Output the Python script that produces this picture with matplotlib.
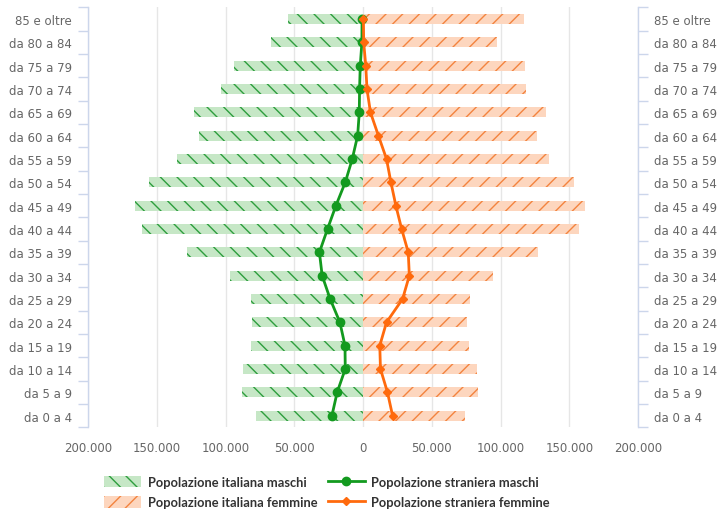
import matplotlib
matplotlib.use("Agg")
import matplotlib.pyplot as plt
import numpy as np
from matplotlib.patches import Patch
from matplotlib.lines import Line2D
from matplotlib.ticker import FuncFormatter

categories = ["da 0 a 4", "da 5 a 9", "da 10 a 14", "da 15 a 19", "da 20 a 24",
              "da 25 a 29", "da 30 a 34", "da 35 a 39", "da 40 a 44", "da 45 a 49",
              "da 50 a 54", "da 55 a 59", "da 60 a 64", "da 65 a 69", "da 70 a 74",
              "da 75 a 79", "da 80 a 84", "85 e oltre"]

italiani_maschi = [77700, 87900, 87100, 81500, 80800, 81500, 96400, 127800, 160600,
                   165500, 155300, 135000, 119300, 123100, 103400, 94000, 66900, 54300]
italiani_femmine = [73900, 83400, 82700, 77100, 75600, 77800, 94400, 127600, 157100,
                    161500, 153200, 135100, 126400, 133000, 118800, 117800, 97600, 117100]
stranieri_maschi = [22600, 18800, 12900, 13100, 16800, 23900, 29700, 31700, 25800,
                    19700, 12900, 7800, 3900, 2700, 2500, 2000, 800, 700]
stranieri_femmine = [21500, 17800, 12700, 12200, 17100, 28800, 33700, 32900, 28100,
                     23900, 20300, 17100, 11200, 5400, 2900, 2000, 500, 300]

x_ticks = [-200000, -150000, -100000, -50000, 0, 50000, 100000, 150000, 200000]

W, H = 717, 510
fig = plt.figure(figsize=(W / 100, H / 100), dpi=100)
ax_left, ax_right, ax_top, ax_bot = 88, 638, 8.3, 428.3
ax = fig.add_axes([ax_left / W, 1 - ax_bot / H, (ax_right - ax_left) / W, (ax_bot - ax_top) / H])

plt.rcParams['hatch.linewidth'] = 1.0

green_fill = "#c6e7c6"
green_hatch = "#2e9e3e"
orange_fill = "#fdd6be"
orange_hatch = "#f3843f"
green_line = "#139a1f"
orange_line = "#ff6a0d"
axis_col = "#ccd6eb"
text_col = "#666666"

y = np.arange(len(categories))
bh = 0.42

ax.barh(y, -np.array(italiani_maschi), height=bh, color=green_fill, edgecolor=green_hatch,
        linewidth=0, hatch="\\\\", zorder=2)
ax.barh(y, np.array(italiani_femmine), height=bh, color=orange_fill, edgecolor=orange_hatch,
        linewidth=0, hatch="//", zorder=2)
ax.plot(-np.array(stranieri_maschi), y, color=green_line, lw=2, marker="o", ms=6, zorder=4)
ax.plot(np.array(stranieri_femmine), y, color=orange_line, lw=2, marker="D", ms=4.5, zorder=4)

ax.set_xlim(-200000, 200000)
ax.set_ylim(-0.5, len(categories) - 0.5)
ax.set_xticks(x_ticks)
ax.xaxis.set_major_formatter(FuncFormatter(lambda v, p: f"{abs(int(v)):,}".replace(",", ".")))
ax.grid(axis="x", color="#e6e6e6", lw=1, zorder=0)
ax.set_axisbelow(True)
ax.tick_params(axis="x", length=0, pad=10, labelsize=8.5, labelcolor=text_col)

ax.set_yticks(y)
ax.set_yticklabels(categories)
ax.set_yticks(np.arange(-0.5, len(categories), 1), minor=True)
ax.tick_params(axis="y", which="major", length=0, pad=11.5, labelsize=8.5,
               labelcolor=text_col, left=True, right=True, labelleft=True, labelright=True)
ax.tick_params(axis="y", which="minor", length=7.2, width=1, color=axis_col,
               left=True, right=True)

for s in ["top", "bottom"]:
    ax.spines[s].set_visible(False)
for s in ["left", "right"]:
    ax.spines[s].set_color(axis_col)
    ax.spines[s].set_linewidth(1)

handles = [
    Patch(facecolor=green_fill, edgecolor=green_hatch, linewidth=0, hatch="\\\\"),
    Patch(facecolor=orange_fill, edgecolor=orange_hatch, linewidth=0, hatch="//"),
    Line2D([], [], color=green_line, lw=2, marker="o", ms=6),
    Line2D([], [], color=orange_line, lw=2, marker="D", ms=4.5),
]
labels = ["Popolazione italiana maschi", "Popolazione italiana femmine",
          "Popolazione straniera maschi", "Popolazione straniera femmine"]
leg = fig.legend(handles, labels, ncol=2, loc="upper left",
                 bbox_to_anchor=(92 / W, 1 - 465 / H), frameon=False,
                 prop={"family": "Lato", "size": 9.3, "weight": "bold"},
                 handlelength=2.9, handleheight=1.0,
                 columnspacing=0.8, labelspacing=0.65, handletextpad=0.5)
for t in leg.get_texts():
    t.set_color("#333333")

fig.savefig("out.png", dpi=100)
